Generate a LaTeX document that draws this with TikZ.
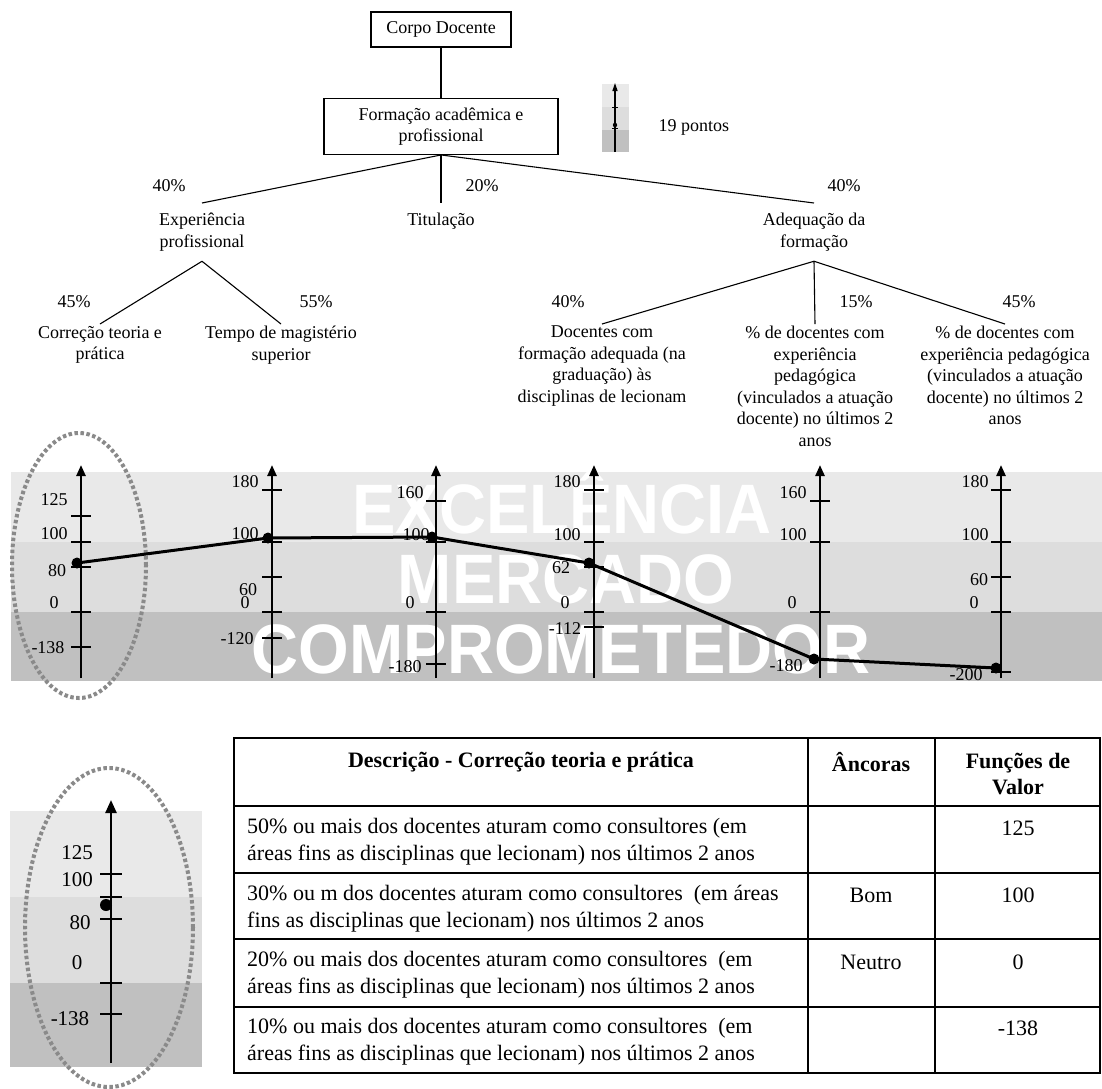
\documentclass[tikz,border=0pt]{standalone}
\usepackage{fontspec}
\setmainfont{Liberation Serif}
\newfontfamily\markfont{Liberation Sans}
\usepackage{tikz}
\usetikzlibrary{arrows.meta,positioning}

\definecolor{bandhigh}{RGB}{233,233,233}
\definecolor{bandmid}{RGB}{221,221,221}
\definecolor{bandlow}{RGB}{192,192,192}
\definecolor{ringgray}{RGB}{138,138,138}

\begin{document}
\begin{tikzpicture}[
    x=1pt, y=-1pt,
    box/.style={rectangle, draw=black, line width=1.3pt, align=center, font=\fontsize{18}{21}\selectfont},
    crit/.style={align=center, inner xsep=2pt, inner ysep=10pt, font=\fontsize{18}{21.5}\selectfont},
    leaf/.style={align=center, inner xsep=2pt, inner ysep=2pt, font=\fontsize{18}{21.5}\selectfont},
    pct/.style={font=\fontsize{18}{21}\selectfont},
    link/.style={line width=1.1pt},
    axis/.style={line width=2.4pt, -{Triangle[length=11pt,width=9pt]}},
    tick/.style={line width=1.3pt},
    val/.style={font=\fontsize{18}{21}\selectfont, inner sep=0pt},
    bigval/.style={font=\fontsize{21}{24}\selectfont, inner sep=0pt},
    ring/.style={draw=ringgray, line width=4pt, dash pattern=on 3.5pt off 2.5pt},
    score/.style={line width=3pt, line join=round},
    watermark/.style={text=white, anchor=base, font=\markfont\bfseries\fontsize{70}{74}\selectfont},
    cell/.style={anchor=west, align=left, inner sep=0pt, font=\fontsize{22}{27}\selectfont},
    entry/.style={inner sep=0pt, font=\fontsize{22}{27}\selectfont},
    head/.style={align=center, inner sep=0pt, font=\bfseries\fontsize{22}{26}\selectfont},
    grid/.style={line width=1.6pt}
]
\useasboundingbox (0,0) rectangle (1102,1088);

% Top of the tree
\node[box, minimum width=140pt, minimum height=35pt] (corpo) at (441,29.5) {Corpo Docente};
\node[box, minimum width=234pt, minimum height=56pt, below=50pt of corpo] (formacao) {Formação acadêmica e\\profissional};

% Small scale
\fill[bandhigh] (602,84) rectangle (629,107);
\fill[bandmid] (602,107) rectangle (629,130);
\fill[bandlow] (602,130) rectangle (629,152);
\draw[line width=1.3pt, -{Triangle[length=8pt,width=5pt]}] (615,152) -- (615,83);
\draw (612,107) -- (618,107);
\draw (612,128) -- (618,128);
\fill (615,125) circle[radius=2.2pt];
\node[pct, anchor=west] (pontos) at (655,127) {19 pontos};

% Criteria
\node[crit, anchor=north] (exper) at (202,203) {Experiência\\profissional};
\node[crit, anchor=north] (titul) at (441,203) {Titulação};
\node[crit, anchor=north] (adeq) at (814,203) {Adequação da\\formação};

% Sub-criteria
\node[leaf, anchor=north] (correcao) at (100,324) {Correção teoria e\\prática};
\node[leaf, anchor=north] (tempo) at (281,324) {Tempo de magistério\\superior};
\node[leaf, anchor=north] (docform) at (602,324) {Docentes com\\formação adequada (na\\graduação) às\\disciplinas de lecionam};
\node[leaf, anchor=north] (docexp) at (815,324) {\% de docentes com\\experiência\\pedagógica\\(vinculados a atuação\\docente) no últimos 2\\anos};
\node[leaf, anchor=north] (docped) at (1005,324) {\% de docentes com\\experiência pedagógica\\(vinculados a atuação\\docente) no últimos 2\\anos};

% Weights
\node[pct] (w1) at (169,186) {40\%};
\node[pct] (w2) at (482,186) {20\%};
\node[pct] (w3) at (844,186) {40\%};
\node[pct] (w4) at (74,302) {45\%};
\node[pct] (w5) at (316,302) {55\%};
\node[pct] (w6) at (568,302) {40\%};
\node[pct] (w7) at (856,302) {15\%};
\node[pct] (w8) at (1019,302) {45\%};

% Links
\draw[link] (corpo) -- (formacao);
\draw[link] (formacao.south) -- (exper.north);
\draw[link] (formacao.south) -- (titul.north);
\draw[link] (formacao.south) -- (adeq.north);
\draw[link] (exper.south) -- (correcao.north);
\draw[link] (exper.south) -- (tempo.north);
\draw[link] (adeq.south) -- (docform.north);
\draw[link] (adeq.south) -- (docexp.north);
\draw[link] (adeq.south) -- (docped.north);

% Bands
\fill[bandhigh] (11,472) rectangle (1102,542);
\fill[bandmid] (11,542) rectangle (1102,612);
\fill[bandlow] (11,612) rectangle (1102,681);
\node[watermark] (excel) at (562,533) {\scalebox{0.93}[1]{EXCELÊNCIA}};
\node[watermark] (merc) at (566,603) {\scalebox{0.93}[1]{MERCADO}};
\node[watermark] (compr) at (561,673) {\scalebox{0.93}[1]{COMPROMETEDOR}};
\draw[ring] (79,565.5) ellipse [x radius=67pt, y radius=132.5pt];

% Scale 1
\draw[axis] (81,678) -- (81,465);
\draw[tick] (71,516) -- (91,516); \node[val] (s1a) at (54,500) {125};
\draw[tick] (71,542) -- (91,542); \node[val] (s1b) at (54,534) {100};
\draw[tick] (71,567) -- (91,567); \node[val] (s1c) at (57,571) {80};
\draw[tick] (71,612) -- (91,612); \node[val] (s1d) at (54,603) {0};
\draw[tick] (71,647) -- (91,647); \node[val] (s1e) at (48,648) {-138};

% Scale 2
\draw[axis] (272,678) -- (272,465);
\draw[tick] (262,490) -- (282,490); \node[val] (s2a) at (245,482) {180};
\draw[tick] (262,542) -- (282,542); \node[val] (s2b) at (245,534) {100};
\draw[tick] (262,577) -- (282,577); \node[val] (s2c) at (248,590) {60};
\draw[tick] (262,612) -- (282,612); \node[val] (s2d) at (245,603) {0};
\draw[tick] (262,638) -- (282,638); \node[val] (s2e) at (237,639) {-120};

% Scale 3
\draw[axis] (436,678) -- (436,465);
\draw[tick] (426,501) -- (446,501); \node[val] (s3a) at (410,493) {160};
\draw[tick] (426,542) -- (446,542); \node[val] (s3b) at (416,535) {100};
\draw[tick] (426,612) -- (446,612); \node[val] (s3c) at (410,603) {0};
\draw[tick] (426,664) -- (446,664); \node[val] (s3d) at (405,667) {-180};

% Scale 4
\draw[axis] (594,678) -- (594,465);
\draw[tick] (584,490) -- (604,490); \node[val] (s4a) at (567,482) {180};
\draw[tick] (584,542) -- (604,542); \node[val] (s4b) at (567,535) {100};
\draw[tick] (584,567) -- (604,567); \node[val] (s4c) at (561,568) {62};
\draw[tick] (584,612) -- (604,612); \node[val] (s4d) at (565,603) {0};
\draw[tick] (584,627) -- (604,627); \node[val] (s4e) at (565,629) {-112};

% Scale 5
\draw[axis] (820,678) -- (820,465);
\draw[tick] (810,501) -- (830,501); \node[val] (s5a) at (793,493) {160};
\draw[tick] (810,542) -- (830,542); \node[val] (s5b) at (793,535) {100};
\draw[tick] (810,612) -- (830,612); \node[val] (s5c) at (792,603) {0};
\draw[tick] (810,660) -- (830,660); \node[val] (s5d) at (786,666) {-180};

% Scale 6
\draw[axis] (1001,678) -- (1001,465);
\draw[tick] (991,490) -- (1011,490); \node[val] (s6a) at (975,482) {180};
\draw[tick] (991,542) -- (1011,542); \node[val] (s6b) at (975,535) {100};
\draw[tick] (991,577) -- (1011,577); \node[val] (s6c) at (979,580) {60};
\draw[tick] (991,612) -- (1011,612); \node[val] (s6d) at (974,603) {0};
\draw[tick] (991,672) -- (1011,672); \node[val] (s6e) at (966,675) {-200};

% Profile
\coordinate (p1) at (77,563);
\coordinate (p2) at (268,538);
\coordinate (p3) at (432,537);
\coordinate (p4) at (589,563);
\coordinate (p5) at (814,659);
\coordinate (p6) at (996,668);
\draw[score] (p1) -- (p2) -- (p3) -- (p4) -- (p5) -- (p6);
\fill (p1) circle[radius=5.5pt];
\fill (p2) circle[radius=5.5pt];
\fill (p3) circle[radius=5.5pt];
\fill (p4) circle[radius=5.5pt];
\fill (p5) circle[radius=5.5pt];
\fill (p6) circle[radius=5.5pt];

% Detail scale
\fill[bandhigh] (10,811) rectangle (202,897);
\fill[bandmid] (10,897) rectangle (202,983);
\fill[bandlow] (10,983) rectangle (202,1067);
\draw[axis, -{Triangle[length=13pt,width=11pt]}] (111,1063) -- (111,800);
\draw[tick] (100,874) -- (122,874); \node[bigval] (d1) at (77,853) {125};
\draw[tick] (100,897) -- (122,897); \node[bigval] (d2) at (77,880) {100};
\draw[tick] (100,919) -- (122,919); \node[bigval] (d3) at (80,923) {80};
\draw[tick] (100,983) -- (122,983); \node[bigval] (d4) at (77,963) {0};
\draw[tick] (100,1014) -- (122,1014); \node[bigval] (d5) at (70,1019) {-138};
\fill (106,905) circle[radius=6pt];
\draw[ring] (109,927.5) ellipse [x radius=84pt, y radius=159.5pt];

% Table
\draw[grid] (234,738) rectangle (1100,1073);
\draw[grid] (808,738) -- (808,1073);
\draw[grid] (935,738) -- (935,1073);
\draw[grid] (234,806) -- (1100,806);
\draw[grid] (234,873) -- (1100,873);
\draw[grid] (234,939) -- (1100,939);
\draw[grid] (234,1007) -- (1100,1007);
\node[head] (hdesc) at (521,762) {Descrição - Correção teoria e prática};
\node[head] (hanc) at (871,762) {Âncoras};
\node[head] (hval) at (1018,774) {Funções de\\Valor};
\node[cell] (r1) at (247,841.5) {50\% ou mais dos docentes aturam como consultores (em\\áreas fins as disciplinas que lecionam) nos últimos 2 anos};
\node[cell] (r2) at (247,908.5) {30\% ou m dos docentes aturam como consultores\ \ (em áreas\\fins as disciplinas que lecionam) nos últimos 2 anos};
\node[cell] (r3) at (247,974.5) {20\% ou mais dos docentes aturam como consultores\ \ (em\\áreas fins as disciplinas que lecionam) nos últimos 2 anos};
\node[cell] (r4) at (247,1041.5) {10\% ou mais dos docentes aturam como consultores\ \ (em\\áreas fins as disciplinas que lecionam) nos últimos 2 anos};
\node[entry] (a2) at (871,895) {Bom};
\node[entry] (a3) at (871,962) {Neutro};
\node[entry] (v1) at (1018,828) {125};
\node[entry] (v2) at (1018,895) {100};
\node[entry] (v3) at (1018,962) {0};
\node[entry] (v4) at (1018,1028) {-138};
\end{tikzpicture}
\end{document}
